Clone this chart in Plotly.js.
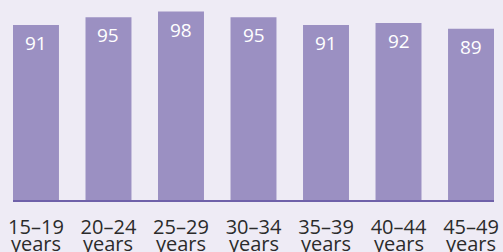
<!DOCTYPE html>
<html>
<head>
<meta charset="utf-8">
<script src="https://cdn.plot.ly/plotly-3.0.1.min.js"></script>
<style>html,body{margin:0;padding:0;background:#eeebf5;}#chart{width:503px;height:252px;}</style>
</head>
<body>
<div id="chart"></div>
<script>
const ageGroups = ["15–19", "20–24", "25–29", "30–34", "35–39", "40–44", "45–49"];
const unitLabel = ["years", "years", "years", "years", "years", "years", "years"];
const values = [91, 95, 98, 95, 91, 92, 89];

const bg = "#eeebf5";
const barColor = "#9b90c2";
const fontFam = "'Open Sans', 'Noto Sans', sans-serif";

const annotations = [];
values.forEach((v, i) => {
  annotations.push({
    x: i, y: v, xref: "x", yref: "y",
    text: String(v), showarrow: false,
    yanchor: "top", yshift: -3,
    font: {family: fontFam, size: 19, color: "#ffffff"}
  });
});
unitLabel.forEach((u, i) => {
  annotations.push({
    x: i, y: 0, xref: "x", yref: "paper",
    text: u, showarrow: false,
    yanchor: "top", yshift: -28,
    font: {family: fontFam, size: 20, color: "#2b2b2b"}
  });
});

const trace = {
  type: "bar",
  x: ageGroups.map((_, i) => i),
  y: values,
  marker: {color: barColor, line: {width: 0}},
  hoverinfo: "none"
};

const layout = {
  width: 503, height: 252,
  margin: {l: 13, r: 9, t: 0, b: 52, pad: 0},
  paper_bgcolor: bg, plot_bgcolor: bg,
  bargap: 0.366,
  showlegend: false,
  xaxis: {
    range: [-0.317, 6.317],
    tickmode: "array",
    tickvals: ageGroups.map((_, i) => i),
    ticktext: ageGroups,
    showgrid: false, zeroline: false,
    showline: true, linecolor: "#6f61a9", linewidth: 1.5,
    ticks: "",
    ticklabelstandoff: 8,
    tickfont: {family: fontFam, size: 20, color: "#2b2b2b"},
    fixedrange: true
  },
  yaxis: {
    range: [0, 104],
    visible: false,
    showgrid: false, zeroline: false,
    fixedrange: true
  },
  annotations: annotations
};

Plotly.newPlot("chart", [trace], layout, {displayModeBar: false, staticPlot: true});
</script>
</body>
</html>
